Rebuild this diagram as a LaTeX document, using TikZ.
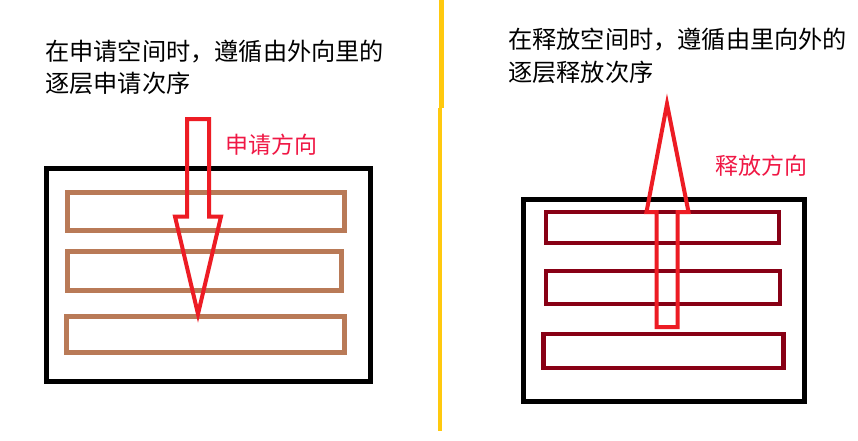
\documentclass[tikz,border=0pt]{standalone}
\usepackage{fontspec}
\newfontfamily\cjk{Noto Sans CJK SC}
\definecolor{brownc}{HTML}{B97A57}
\definecolor{darkredc}{HTML}{880015}
\definecolor{redc}{HTML}{ED1C24}
\definecolor{yellowc}{HTML}{FFC90E}
\tikzset{
  outerbox/.style={draw=black,line width=5pt},
  leftlayer/.style={draw=brownc,line width=5pt},
  rightlayer/.style={draw=darkredc,line width=4.5pt},
  bigarrow/.style={draw=redc,line width=4pt,line join=miter},
  titletext/.style={anchor=west,inner sep=0pt,font=\cjk\fontsize{24.2}{28}\selectfont,text=black},
  dirtext/.style={anchor=west,inner sep=0pt,font=\cjk\fontsize{23}{27}\selectfont,text=redc!85!magenta},
}
\begin{document}
\begin{tikzpicture}[x=1pt,y=-1pt]
\useasboundingbox[fill=white] (0,0) rectangle (858,440);
% divider
\draw[yellowc,line width=4.5pt] (441.5,0) -- (441.5,108);
\draw[yellowc,line width=4.5pt] (440,108) -- (440,431);
% left titles
\node[titletext] (lt1) at (45,52) {在申请空间时，遵循由外向里的};
\node[titletext] (lt2) at (45,83) {逐层申请次序};
\node[dirtext] (ld) at (225,145) {申请方向};
% left boxes
\draw[outerbox] (46.5,168.5) rectangle (370,381.5);
\draw[leftlayer] (67.5,192.5) rectangle (344.5,230);
\draw[leftlayer] (67.5,251) rectangle (341.5,290);
\draw[leftlayer] (66.5,316.5) rectangle (344.5,352);
% left arrow (down)
\draw[bigarrow] (187,119) -- (209,119) -- (209,216.5) -- (221,216.5) -- (198,314) -- (175,216.5) -- (187,216.5) -- cycle;
% right titles
\node[titletext] (rt1) at (508,40) {在释放空间时，遵循由里向外的};
\node[titletext] (rt2) at (508,72) {逐层释放次序};
\node[dirtext] (rd) at (715,166) {释放方向};
% right boxes
\draw[outerbox] (523,199) rectangle (804,401.5);
\draw[rightlayer] (546,212) rectangle (779,243);
\draw[rightlayer] (546,271) rectangle (780,304);
\draw[rightlayer] (543.5,334) rectangle (783.5,368);
% right arrow (up)
\draw[bigarrow] (656.5,327) -- (677.5,327) -- (677.5,212) -- (688.5,212) -- (667,104) -- (646.5,212) -- (656.5,212) -- cycle;
\end{tikzpicture}
\end{document}
